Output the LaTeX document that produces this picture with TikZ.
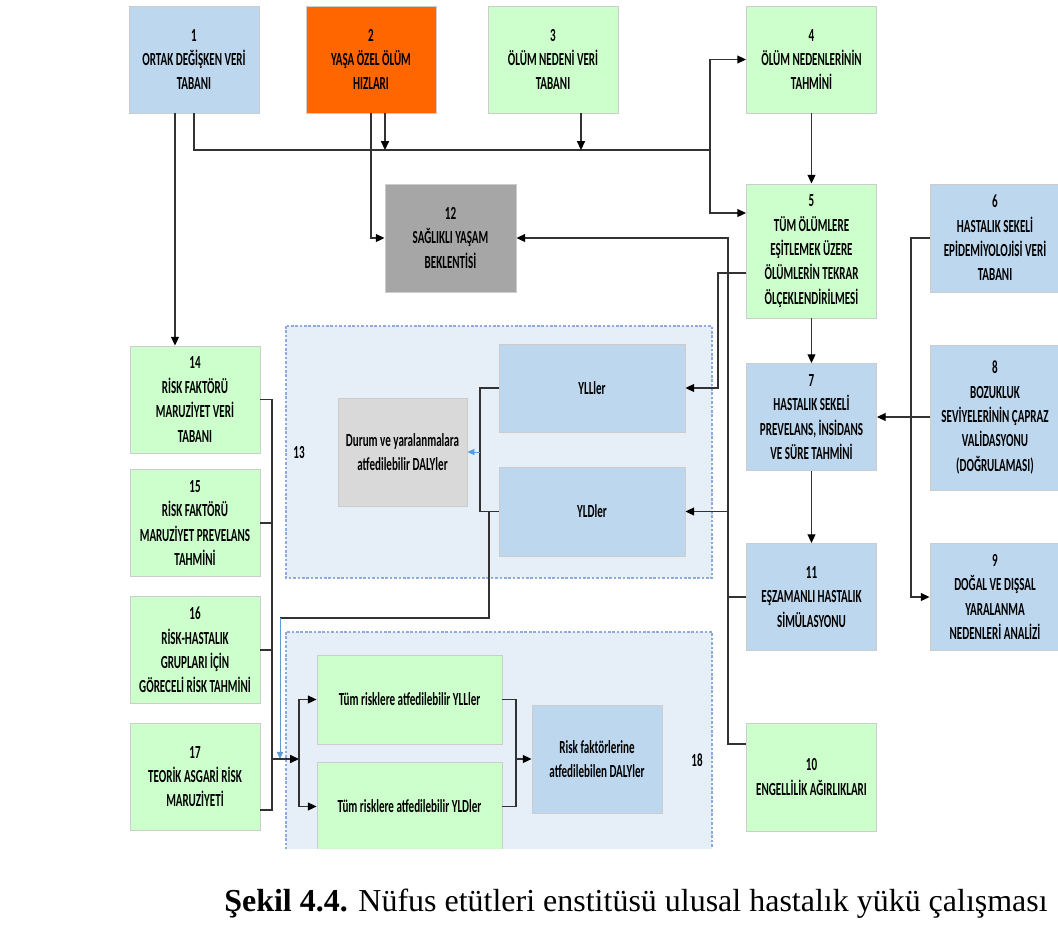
\documentclass[tikz,border=0pt]{standalone}
\usepackage{fontspec}
\setmainfont{Carlito}[FakeStretch=0.6]
\newfontfamily\capfont{Liberation Serif}
\usetikzlibrary{arrows.meta,calc}

\definecolor{boxblue}{RGB}{189,215,238}
\definecolor{boxorange}{RGB}{255,102,0}
\definecolor{boxgreen}{RGB}{204,255,204}
\definecolor{boxgray}{RGB}{166,166,166}
\definecolor{boxlgray}{RGB}{217,217,217}
\definecolor{regfill}{RGB}{230,238,248}
\definecolor{regline}{RGB}{143,170,220}
\definecolor{lnk}{RGB}{50,50,50}
\definecolor{lnkblue}{RGB}{91,155,213}

\tikzset{
  box/.style={draw=black!20, line width=0.5pt, align=center, inner sep=1pt,
    minimum width=2.6cm, minimum height=2.14cm,
    font=\bfseries\fontsize{10.5}{13.9}\selectfont},
  region/.style={draw=regline, fill=regfill, line width=0.6pt, dash pattern=on 1.5pt off 1pt},
  link/.style={draw=lnk, line width=0.8pt},
  arr/.style={link, -{Triangle[length=5pt,width=4.5pt,color=black]}},
  barr/.style={draw=lnkblue, line width=0.5pt, -{Triangle[length=4pt,width=3.5pt]}}
}

\begin{document}
\begin{tikzpicture}[x=0.02cm, y=-0.02cm]
  \useasboundingbox (0,0) rectangle (1058,927);
  \begin{scope}
  \clip (0,0) rectangle (1058,848);
  % gruplar
  \draw[region] (286,326) rectangle (712,578);
  \draw[region] (286,632) rectangle (712,880);
  \node[font=\bfseries\fontsize{10.5}{13.9}\selectfont] (l13) at (299,453) {13};
  \node[font=\bfseries\fontsize{10.5}{13.9}\selectfont] (l18) at (697,760) {18};
  % ust sira
  \node[box, fill=boxblue] (b1) at (194,59.5) {1\\ORTAK DEĞİŞKEN VERİ\\TABANI};
  \node[box, fill=boxorange] (b2) at (371,59.5) {2\\YAŞA ÖZEL ÖLÜM\\HIZLARI};
  \node[box, fill=boxgreen] (b3) at (553,59.5) {3\\ÖLÜM NEDENİ VERİ\\TABANI};
  \node[box, fill=boxgreen] (b4) at (811.5,59.5) {4\\ÖLÜM NEDENLERİNİN\\TAHMİNİ};
  \node[box, fill=boxgreen, minimum height=2.68cm] (b5) at (811.5,251) {5\\TÜM ÖLÜMLERE\\EŞİTLEMEK ÜZERE\\ÖLÜMLERİN TEKRAR\\ÖLÇEKLENDİRİLMESİ};
  \node[box, fill=boxblue, minimum height=2.16cm] (b6) at (995,238) {6\\HASTALIK SEKELİ\\EPİDEMİYOLOJİSİ VERİ\\TABANI};
  \node[box, fill=boxgray, minimum width=2.62cm, minimum height=2.16cm] (b12) at (450.5,238) {12\\SAĞLIKLI YAŞAM\\BEKLENTİSİ};
  % sag sutun
  \node[box, fill=boxblue] (b7) at (811.5,417) {7\\HASTALIK SEKELİ\\PREVELANS, İNSİDANS\\VE SÜRE TAHMİNİ};
  \node[box, fill=boxblue, minimum height=2.9cm] (b8) at (995,417.5) {8\\BOZUKLUK\\SEVİYELERİNİN ÇAPRAZ\\VALİDASYONU\\(DOĞRULAMASI)};
  \node[box, fill=boxblue] (b11) at (811.5,597) {11\\EŞZAMANLI HASTALIK\\SİMÜLASYONU};
  \node[box, fill=boxblue] (b9) at (995,597) {9\\DOĞAL VE DIŞSAL\\YARALANMA\\NEDENLERİ ANALİZİ};
  \node[box, fill=boxgreen, minimum height=2.16cm] (b10) at (811.5,777) {10\\ENGELLİLİK AĞIRLIKLARI};
  % sol sutun
  \node[box, fill=boxgreen] (b14) at (195,399.5) {14\\RİSK FAKTÖRÜ\\MARUZİYET VERİ\\TABANI};
  \node[box, fill=boxgreen] (b15) at (195,523) {15\\RİSK FAKTÖRÜ\\MARUZİYET PREVELANS\\TAHMİNİ};
  \node[box, fill=boxgreen] (b16) at (195,650) {16\\RİSK-HASTALIK\\GRUPLARI İÇİN\\GÖRECELİ RİSK TAHMİNİ};
  \node[box, fill=boxgreen] (b17) at (195,776.5) {17\\TEORİK ASGARİ RİSK\\MARUZİYETİ};
  % 13 icindekiler
  \node[box, fill=boxblue, minimum width=3.72cm, minimum height=1.76cm] (yll) at (592,388) {YLLler};
  \node[box, fill=boxblue, minimum width=3.72cm, minimum height=1.78cm] (yld) at (592,511.5) {YLDler};
  \node[box, fill=boxlgray, minimum width=2.58cm, minimum height=2.16cm] (durum) at (402.5,452) {Durum ve yaralanmalara\\atfedilebilir DALYler};
  % 18 icindekiler
  \node[box, fill=boxgreen, minimum width=3.7cm, minimum height=1.78cm] (tyll) at (409.5,699.5) {Tüm risklere atfedilebilir YLLler};
  \node[box, fill=boxgreen, minimum width=3.7cm, minimum height=1.78cm] (tyld) at (409.5,806.5) {Tüm risklere atfedilebilir YLDler};
  \node[box, fill=boxblue, minimum height=2.16cm] (rf) at (597,759) {Risk faktörlerine\\atfedilebilen DALYler};

  \coordinate (hub) at (710,150);
  \coordinate (k5) at (718,300);
  \coordinate (tr) at (728,238);
  \coordinate (k6) at (911,300);
  \coordinate (br) at (480,450);
  \coordinate (k13) at (489,618);
  \coordinate (k18) at (280,618);
  \coordinate (rb) at (272,759);
  \coordinate (sp) at (299,759);
  \coordinate (jr) at (516,759);

  % ust baglantilar
  \draw[link] (b1.south) |- (hub);
  \draw[arr] ([xshift=-0.38cm]b1.south) coordinate (d1) -- (d1 |- b14.north);
  \draw[arr] ([xshift=0.28cm]b2.south) coordinate (d2) -- (d2 |- hub);
  \draw[arr] ([xshift=0.56cm]b3.south) coordinate (d3) -- (d3 |- hub);
  \draw[arr] (hub) |- (b4.west);
  \draw[arr] (hub) |- ([yshift=0.76cm]b5.west);
  \draw[arr] (b2.south) |- (b12.west);
  \draw[arr] (b4.south) -- (b5.north);
  \draw[arr] (b5.south) -- (b7.north);
  \draw[arr] (b7.south) -- (b11.north);
  \draw[arr] (b8.west |- b7.east) -- (b7.east);
  \draw[arr] (b6.west) -| (k6) |- (b9.west);
  % dikey hat
  \draw[arr] ([yshift=-0.44cm]b5.west) -| (k5 |- yll.east) -- (yll.east);
  \draw[arr] ([yshift=0.66cm]b10.west) -| (tr) -- (b12.east);
  \draw[arr] (tr |- yld.east) -- (yld.east);
  \draw[link] (b11.west) -- (tr |- b11.west);
  % 13
  \draw[link] (yll.west) -| (br) |- (yld.west);
  \draw[barr] (br |- durum.east) -- (durum.east);
  \draw[link] (k13 |- yld.west) -- (k13) -- (k18);
  \draw[barr] (k18) -- (k18 |- sp);
  % risk
  \draw[link] (b14.east) -| (rb) |- ([yshift=-0.67cm]b17.east);
  \draw[link] (b15.east) -- (b15.east -| rb);
  \draw[link] (b16.east) -- (b16.east -| rb);
  \draw[arr] (rb) -- (sp);
  \draw[arr] (sp) |- (tyll.west);
  \draw[arr] (sp) |- (tyld.west);
  \draw[link] (tyll.east) -| (jr) |- (tyld.east);
  \draw[arr] (jr) -- (rf.west);
  \end{scope}

  \node[anchor=base west, inner sep=0pt, font=\capfont\fontsize{18.2}{21}\selectfont] (cap) at (224,911)
    {\textbf{Şekil 4.4.} Nüfus etütleri enstitüsü ulusal hastalık yükü çalışması};
\end{tikzpicture}
\end{document}
